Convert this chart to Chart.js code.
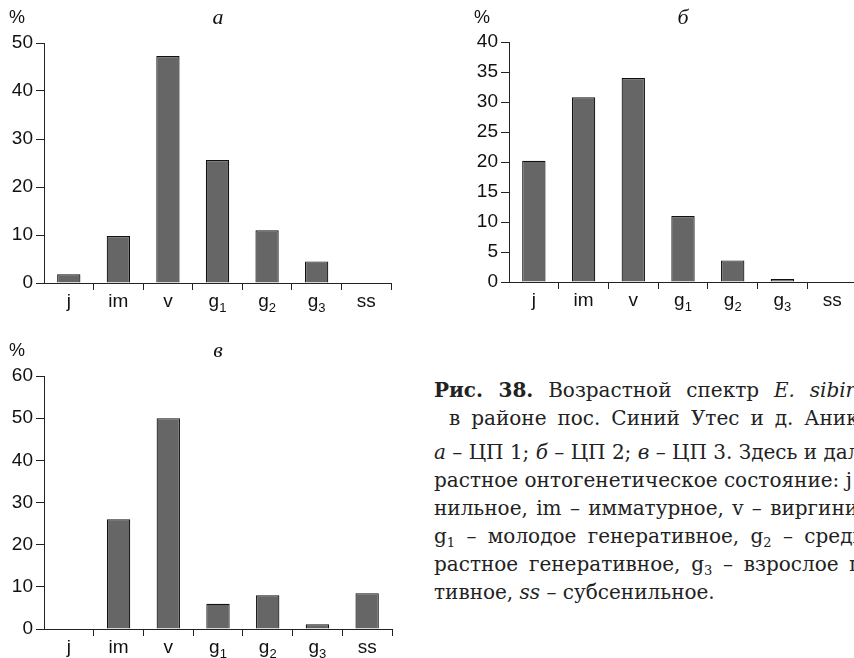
<!DOCTYPE html>
<html><head><meta charset="utf-8">
<script src="https://cdn.jsdelivr.net/npm/chart.js@4/dist/chart.umd.min.js"></script>
<style>
html,body{margin:0;padding:0;background:#fff;width:854px;height:658px;overflow:hidden;position:relative}
canvas{position:absolute}
.pct{position:absolute;font:18px "Liberation Sans",Arial,sans-serif;color:#111}
.ttl{position:absolute;font:italic 22px "Liberation Serif","Times New Roman",serif;color:#111;transform:translate(-50%,0)}
#cap{position:absolute;left:434px;top:376px;font:20px "DejaVu Serif",serif;color:#222;white-space:nowrap}
#cap div{height:28px;line-height:28px}
#cap sub{font-size:13px;vertical-align:-4px;line-height:0}
</style></head>
<body>
<canvas id="cA" width="420" height="330" style="left:0;top:0"></canvas>
<canvas id="cB" width="445" height="330" style="left:420px;top:0"></canvas>
<canvas id="cC" width="420" height="340" style="left:0;top:330px"></canvas>
<div class="pct" style="left:9px;top:7px">%</div>
<div class="pct" style="left:474px;top:7px">%</div>
<div class="pct" style="left:9px;top:340px">%</div>
<div class="ttl" style="left:218px;top:4px">а</div>
<div class="ttl" style="left:683px;top:4px">б</div>
<div class="ttl" style="left:218px;top:337px">в</div>
<div id="cap">
<div style="word-spacing:8.5px"><b>Рис. 38.</b> Возрастной спектр <i>E. sibiricus</i></div>
<div style="padding-left:15px;word-spacing:4.6px">в районе пос. Синий Утес и д. Аниково</div>
<div style="margin-top:6px"><i>а</i> – ЦП 1; <i>б</i> – ЦП 2; <i>в</i> – ЦП 3. Здесь и далее воз-</div>
<div>растное онтогенетическое состояние: j – юве-</div>
<div style="word-spacing:2px">нильное, im – имматурное, v – виргинильное,</div>
<div style="word-spacing:5px">g<sub>1</sub> – молодое генеративное, g<sub>2</sub> – средневоз-</div>
<div style="word-spacing:4.4px">растное генеративное, g<sub>3</sub> – взрослое генера-</div>
<div>тивное, <i>ss</i> – субсенильное.</div>
</div>
<script>
const categories = ['j','im','v','g1','g2','g3','ss'];
const valuesA = [1.8, 9.8, 47.3, 25.6, 11.0, 4.5, 0];
const valuesB = [20.2, 30.8, 34.0, 11.0, 3.6, 0.5, 0];
const valuesC = [0, 26.0, 50.0, 6.0, 8.0, 1.1, 8.5];
const yMaxA = 50, yStepA = 10;
const yMaxB = 40, yStepB = 5;
const yMaxC = 60, yStepC = 10;

const AXIS_FONT = '"Liberation Sans", Arial, sans-serif';

const xLabels = {
  id: 'xLabels',
  afterDraw(chart) {
    const ctx = chart.ctx, x = chart.scales.x;
    const base = x.top + 24;
    ctx.save();
    ctx.fillStyle = '#111';
    ctx.textBaseline = 'alphabetic';
    ctx.textAlign = 'left';
    chart.data.labels.forEach((lab, i) => {
      const m = /^([a-z]+)(\d*)$/.exec(lab);
      const main = m[1], sub = m[2];
      ctx.font = '19px ' + AXIS_FONT;
      const wm = ctx.measureText(main).width;
      ctx.font = '13px ' + AXIS_FONT;
      const ws = sub ? ctx.measureText(sub).width : 0;
      const cx = x.getPixelForValue(i);
      const x0 = cx - (wm + ws) / 2;
      ctx.font = '19px ' + AXIS_FONT;
      ctx.fillText(main, x0, base);
      if (sub) { ctx.font = '13px ' + AXIS_FONT; ctx.fillText(sub, x0 + wm, base + 5); }
    });
    ctx.restore();
  }
};

function makeChart(id, values, yMax, yStep, pad, yWidth) {
  return new Chart(document.getElementById(id), {
    type: 'bar',
    data: {
      labels: categories,
      datasets: [{
        data: values,
        backgroundColor: '#666666',
        borderColor: '#111111',
        borderWidth: 1.2,
        borderSkipped: 'bottom',
        barPercentage: 0.47,
        categoryPercentage: 1.0
      }]
    },
    options: {
      responsive: false,
      animation: false,
      events: [],
      layout: { padding: pad },
      plugins: { legend: { display: false }, tooltip: { enabled: false }, title: { display: false } },
      scales: {
        x: {
          type: 'category',
          offset: true,
          grid: {
            offset: true, drawOnChartArea: false, drawTicks: true, tickLength: 7,
            color: (c) => c.index === 0 ? 'rgba(0,0,0,0)' : '#222', lineWidth: 1
          },
          border: { display: true, color: '#222', width: 1 },
          ticks: { display: false },
          afterFit: (s) => { s.height = 30; }
        },
        y: {
          min: 0, max: yMax,
          ticks: { stepSize: yStep, color: '#111', font: { family: AXIS_FONT, size: 19 }, padding: 3 },
          grid: { drawOnChartArea: false, drawTicks: true, tickLength: 8, color: '#222' },
          border: { display: true, color: '#222', width: 1 },
          afterFit: (s) => { s.width = yWidth; }
        }
      }
    },
    plugins: [xLabels]
  });
}

makeChart('cA', valuesA, yMaxA, yStepA, { left: 0, top: 43, right: 29, bottom: 17 }, 44);
makeChart('cB', valuesB, yMaxB, yStepB, { left: 0, top: 42, right: 8, bottom: 18 }, 89);
makeChart('cC', valuesC, yMaxC, yStepC, { left: 0, top: 46, right: 28, bottom: 11 }, 44);
</script>
</body></html>
